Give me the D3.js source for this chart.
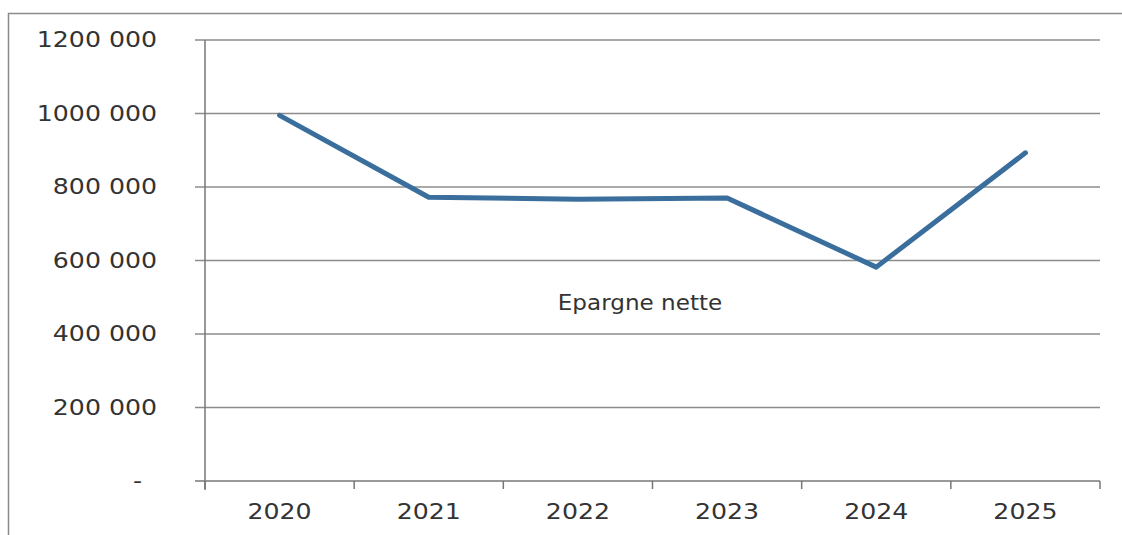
<!DOCTYPE html>
<html>
<head>
<meta charset="utf-8">
<script src="https://cdn.jsdelivr.net/npm/d3@7"></script>
<style>
  body { margin: 0; background: #fff; }
  svg { display: block; }
  text { font-family: "DejaVu Sans", Verdana, sans-serif; fill: #333; }
</style>
</head>
<body>
<script>
// data
var years = ["2020", "2021", "2022", "2023", "2024", "2025"];
var epargneNette = [995000, 772000, 767000, 770000, 582000, 893000];
var yTicks = [0, 200000, 400000, 600000, 800000, 1000000, 1200000];
var seriesLabel = "Epargne nette";

var width = 1122, height = 535;
var plotLeft = 205, plotRight = 1100, plotTop = 40, plotBottom = 481;
var stretch = 1.2; // the scan is wider than tall, so labels are stretched

var svg = d3.select("body").append("svg")
    .attr("width", width)
    .attr("height", height);

// outer frame of the chart (runs off the right and bottom edges)
svg.append("rect")
    .attr("x", 8.5).attr("y", 13.5)
    .attr("width", 1200).attr("height", 600)
    .style("fill", "none")
    .style("stroke", "#8a8a8a")
    .style("stroke-width", 1.5);

var x = d3.scaleBand().domain(years).range([plotLeft, plotRight]);
var y = d3.scaleLinear().domain([0, 1200000]).range([plotBottom, plotTop]);

function fmt(v) {
    if (v === 0) return "-";
    var s = d3.format(",")(v).replace(/,/g, " ");
    return s.replace(/^(\d) (\d{3}) /, "$1$2 ");
}

// gridlines
svg.append("g").selectAll("line")
    .data(yTicks.filter(function(d) { return d > 0; }))
    .enter().append("line")
    .attr("x1", plotLeft - 10).attr("x2", plotRight)
    .attr("y1", function(d) { return y(d); })
    .attr("y2", function(d) { return y(d); })
    .style("stroke", "#8c8c8c")
    .style("stroke-width", 1.3);

// y axis
var yAxis = svg.append("g")
    .attr("transform", "translate(" + plotLeft + ",0)")
    .call(d3.axisLeft(y).tickValues(yTicks).tickSize(0).tickFormat(fmt));
yAxis.select(".domain")
    .attr("d", "M0," + plotTop + "V" + (plotBottom + 9))
    .style("stroke", "#777").style("stroke-width", 1.5);
yAxis.selectAll(".tick text")
    .attr("x", function(d) { return (d === 0 ? -63 : -48) / stretch; })
    .attr("transform", "scale(" + stretch + ",1)")
    .style("font-size", "21px")
    .style("fill", "#333");

// x axis
var boundaries = years.map(function(d) { return x(d); }).concat([plotRight]);
svg.append("line")
    .attr("x1", plotLeft - 10).attr("x2", plotRight)
    .attr("y1", plotBottom).attr("y2", plotBottom)
    .style("stroke", "#777").style("stroke-width", 1.5);
svg.append("g").selectAll("line")
    .data(boundaries)
    .enter().append("line")
    .attr("x1", function(d) { return d; }).attr("x2", function(d) { return d; })
    .attr("y1", plotBottom).attr("y2", plotBottom + 8)
    .style("stroke", "#777").style("stroke-width", 1.5);
svg.append("g").selectAll("text")
    .data(years)
    .enter().append("text")
    .attr("transform", function(d) {
        return "translate(" + (x(d) + x.bandwidth() / 2) + ",519) scale(" + stretch + ",1)";
    })
    .attr("text-anchor", "middle")
    .style("font-size", "21px")
    .text(function(d) { return d; });

// series line
var line = d3.line()
    .x(function(d, i) { return x(years[i]) + x.bandwidth() / 2; })
    .y(function(d) { return y(d); });

svg.append("path")
    .datum(epargneNette)
    .attr("d", line)
    .style("fill", "none")
    .style("stroke", "#3a6e9c")
    .style("stroke-width", 5)
    .style("stroke-linejoin", "round")
    .style("stroke-linecap", "round");

// series label
svg.append("text")
    .attr("transform", "translate(640,310) scale(1.05,1)")
    .attr("text-anchor", "middle")
    .style("font-size", "22px")
    .text(seriesLabel);
</script>
</body>
</html>
